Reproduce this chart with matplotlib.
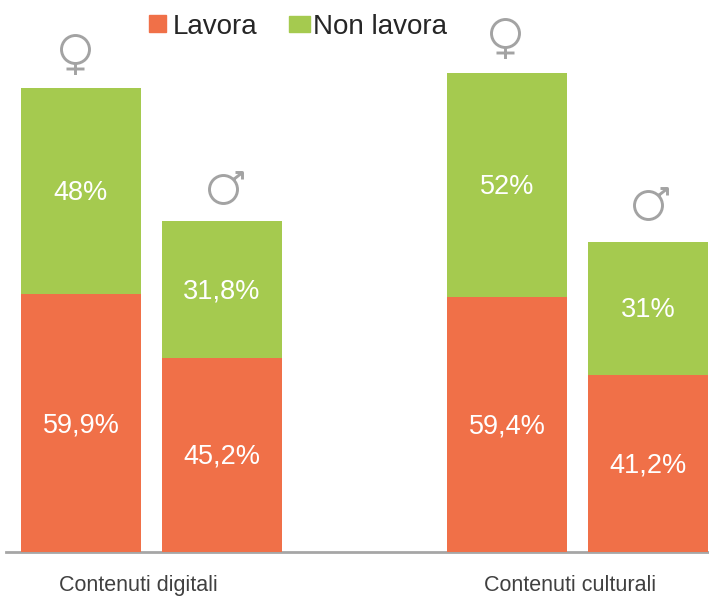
import numpy as np
import matplotlib.pyplot as plt
from matplotlib.patches import Rectangle
from matplotlib.path import Path
from matplotlib.transforms import offset_copy

# Dati
etichette = ['59,9%', '45,2%', '59,4%', '41,2%']
etichette_nl = ['48%', '31,8%', '52%', '31%']
lavora = [59.9, 45.2, 59.4, 41.2]
non_lavora = [48, 31.8, 52, 31]
gruppi = ['Contenuti digitali', 'Contenuti culturali']
posizioni = [81, 222, 507, 648]

arancio = '#F07048'
verde = '#A5CA4F'
grigio = '#A6A6A6'

plt.rcParams['font.family'] = ['Liberation Sans', 'DejaVu Sans']

W, H = 709, 596
y0 = 552
fig = plt.figure(figsize=(W / 100, H / 100), dpi=100)
ax = fig.add_axes([0, 0, 1, 1])
ax.set_xlim(0, W)
scala = 4.3
ax.set_ylim((y0 - H) / scala, y0 / scala)
ax.axis('off')

ax.bar(posizioni, lavora, width=120, color=arancio)
ax.bar(posizioni, non_lavora, width=120, bottom=lavora, color=verde)
ax.plot([6, W], [0, 0], color=grigio, lw=2, zorder=0)

for i, x in enumerate(posizioni):
    ax.annotate(etichette[i], (x, lavora[i] / 2), xytext=(0, -1.5), textcoords='offset points',
                color='white', fontsize=19.5, ha='center', va='center')
    ax.annotate(etichette_nl[i], (x, lavora[i] + non_lavora[i] / 2), xytext=(0, -1.5), textcoords='offset points',
                color='white', fontsize=19.5, ha='center', va='center')

# Simboli disegnati come marker (anello + tratti), in pixel attorno al centro
r = 14
anello = Path.circle((0, 0), r)
femmina = Path.make_compound_path(anello, Path([(0, -r), (0, -25.5)]), Path([(-9, -19.5), (9, -19.5)]))
maschio = Path.make_compound_path(anello, Path([(10, 10), (19, 17)]), Path([(12, 17), (19, 17), (19, 10)]))
simboli = [femmina, maschio, femmina, maschio]
scost = [(-6, 39.5), (1, 32), (-2, 40), (0, 37)]

for i, x in enumerate(posizioni):
    top = lavora[i] + non_lavora[i]
    tr = offset_copy(ax.transData, fig=fig, x=scost[i][0], y=scost[i][1], units='dots')
    # il marker viene normalizzato sulla coordinata massima del path
    ms = 2 * np.max(np.abs(simboli[i].vertices)) * 0.72
    ax.plot([x], [top], marker=simboli[i], ms=ms, mfc='none', mec='#A3A3A3', mew=2.1, ls='none',
            transform=tr, clip_on=False)

for x, g in zip([posizioni[0] + 57, posizioni[2] + 63], gruppi):
    ax.annotate(g, (x, 0), xytext=(0, -28.4), textcoords='offset points', fontsize=15.5, ha='center', va='baseline',
                color='#404040')

# Legenda
fig.patches.append(Rectangle((149 / W, 1 - 32 / H), 17 / W, 17 / H, transform=fig.transFigure, color=arancio))
fig.patches.append(Rectangle((289 / W, 1 - 32 / H), 21 / W, 16 / H, transform=fig.transFigure, color=verde))
fig.text(173 / W, 1 - 34 / H, 'Lavora', fontsize=20, va='baseline', color='#262626')
fig.text(313 / W, 1 - 34 / H, 'Non lavora', fontsize=20, va='baseline', color='#262626')

fig.savefig('out.png', dpi=100)
